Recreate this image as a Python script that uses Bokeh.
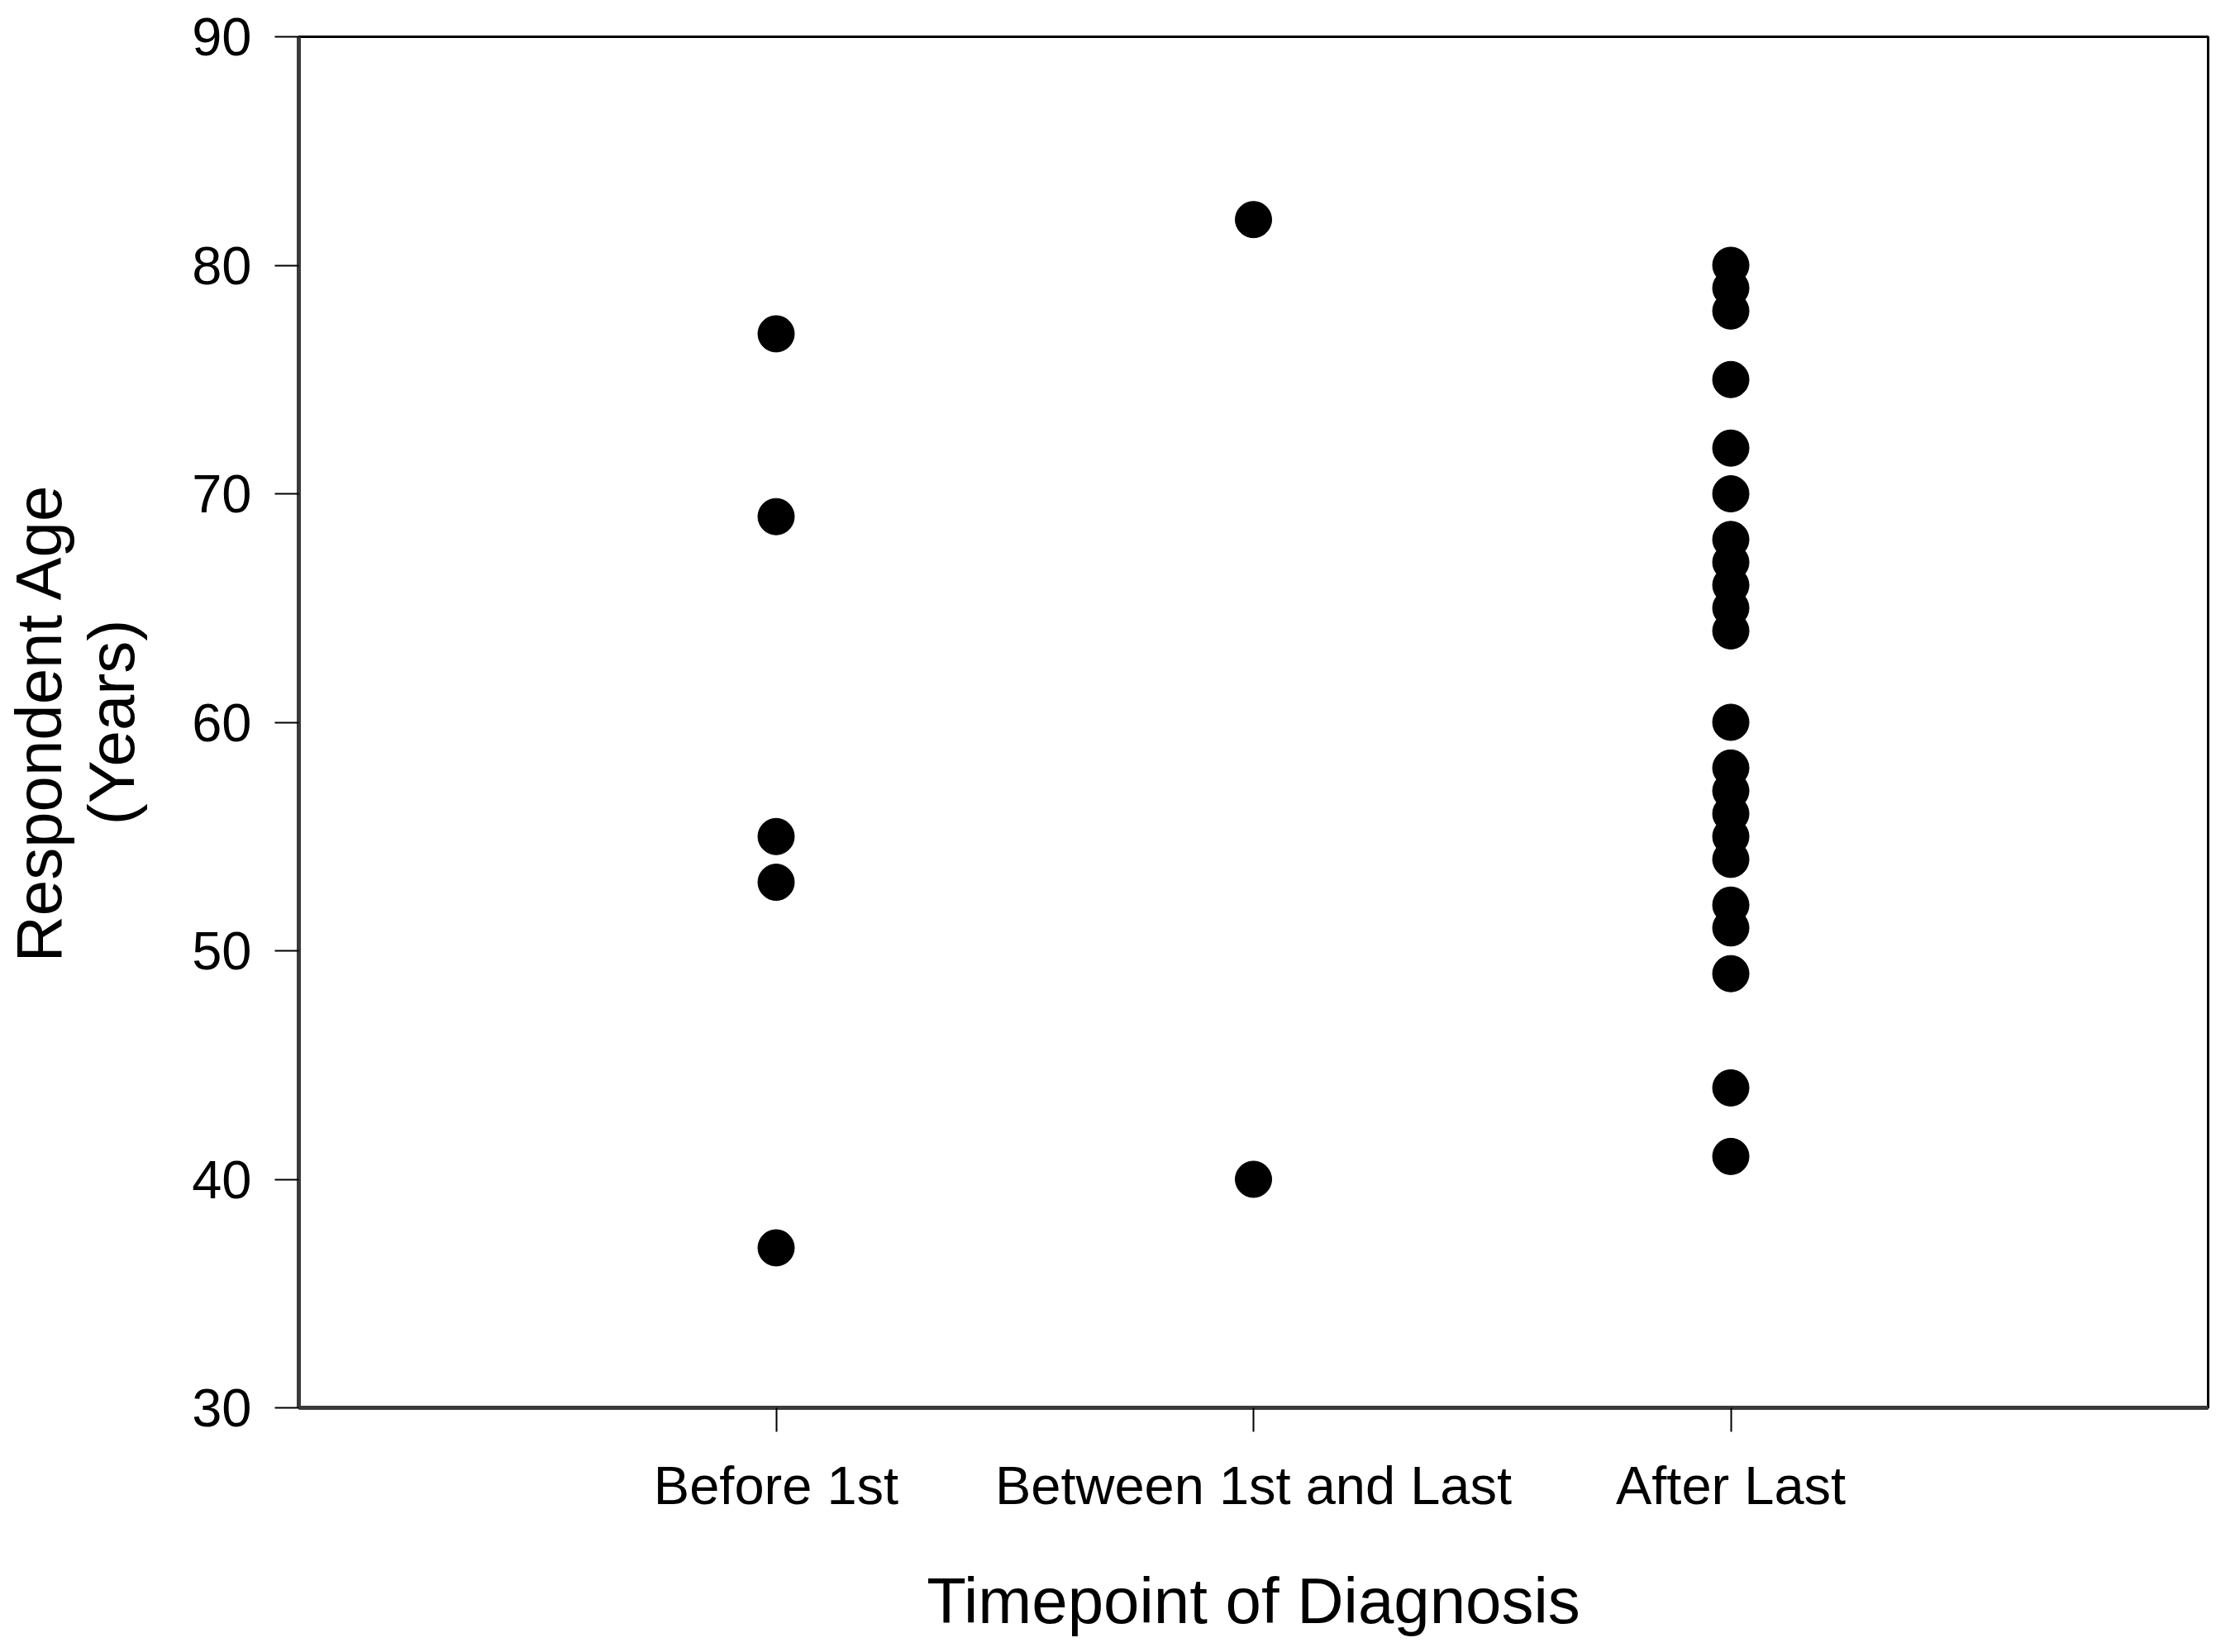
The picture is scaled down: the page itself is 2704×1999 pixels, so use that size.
from bokeh.plotting import figure
from bokeh.models import Range1d, FixedTicker, ColumnDataSource
from bokeh.embed import file_html
from bokeh.resources import INLINE

categories = ["Before 1st", "Between 1st and Last", "After Last"]
before_1st = [77, 69, 55, 53, 37]
between_1st_last = [82, 40]
after_last = [80, 79, 78, 75, 72, 70, 68, 67, 66, 65, 64, 60, 58, 57, 56, 55, 54, 52, 51, 49, 44, 41]
y_ticks = [30, 40, 50, 60, 70, 80, 90]

series = [before_1st, between_1st_last, after_last]
xs, ys = [], []
for i, vals in enumerate(series):
    for v in vals:
        xs.append(i + 1)
        ys.append(v)
src = ColumnDataSource(dict(x=xs, y=ys))

FONT = "Liberation Sans"

p = figure(width=2688, height=1983, output_backend="svg", toolbar_location=None,
           x_range=Range1d(0, 4), y_range=Range1d(30, 90),
           min_border_left=340, min_border_top=44, min_border_right=17, min_border_bottom=260)
p.background_fill_color = "white"
p.border_fill_color = "white"
p.xgrid.visible = False
p.ygrid.visible = False
p.outline_line_color = "black"
p.outline_line_width = 3

p.scatter("x", "y", source=src, size=44, color="black", line_color="black")

p.xaxis.ticker = FixedTicker(ticks=[1, 2, 3])
p.xaxis.major_label_overrides = {i + 1: c for i, c in enumerate(categories)}
p.yaxis.ticker = FixedTicker(ticks=y_ticks)

for ax in (p.xaxis[0], p.yaxis[0]):
    ax.axis_line_color = "#3a3a3a"
    ax.axis_line_width = 5
    ax.major_tick_line_color = "black"
    ax.major_tick_line_width = 2
    ax.major_tick_in = 0
    ax.major_tick_out = 29
    ax.minor_tick_in = 0
    ax.minor_tick_out = 0
    ax.major_label_text_font = FONT
    ax.major_label_text_font_size = "65px"
    ax.major_label_text_color = "black"
    ax.axis_label_text_font = FONT
    ax.axis_label_text_font_style = "normal"
    ax.axis_label_text_font_size = "78px"
    ax.axis_label_text_color = "black"
    ax.axis_label_text_line_height = 1.0

p.xaxis.axis_label = "Timepoint of Diagnosis"
p.xaxis.major_label_standoff = 28
p.xaxis.axis_label_standoff = 56
p.yaxis.axis_label = "Respondent Age\n(Years)"
p.yaxis.major_label_standoff = 28
p.yaxis.axis_label_standoff = 50

open("out.html", "w").write(file_html(p, INLINE))
